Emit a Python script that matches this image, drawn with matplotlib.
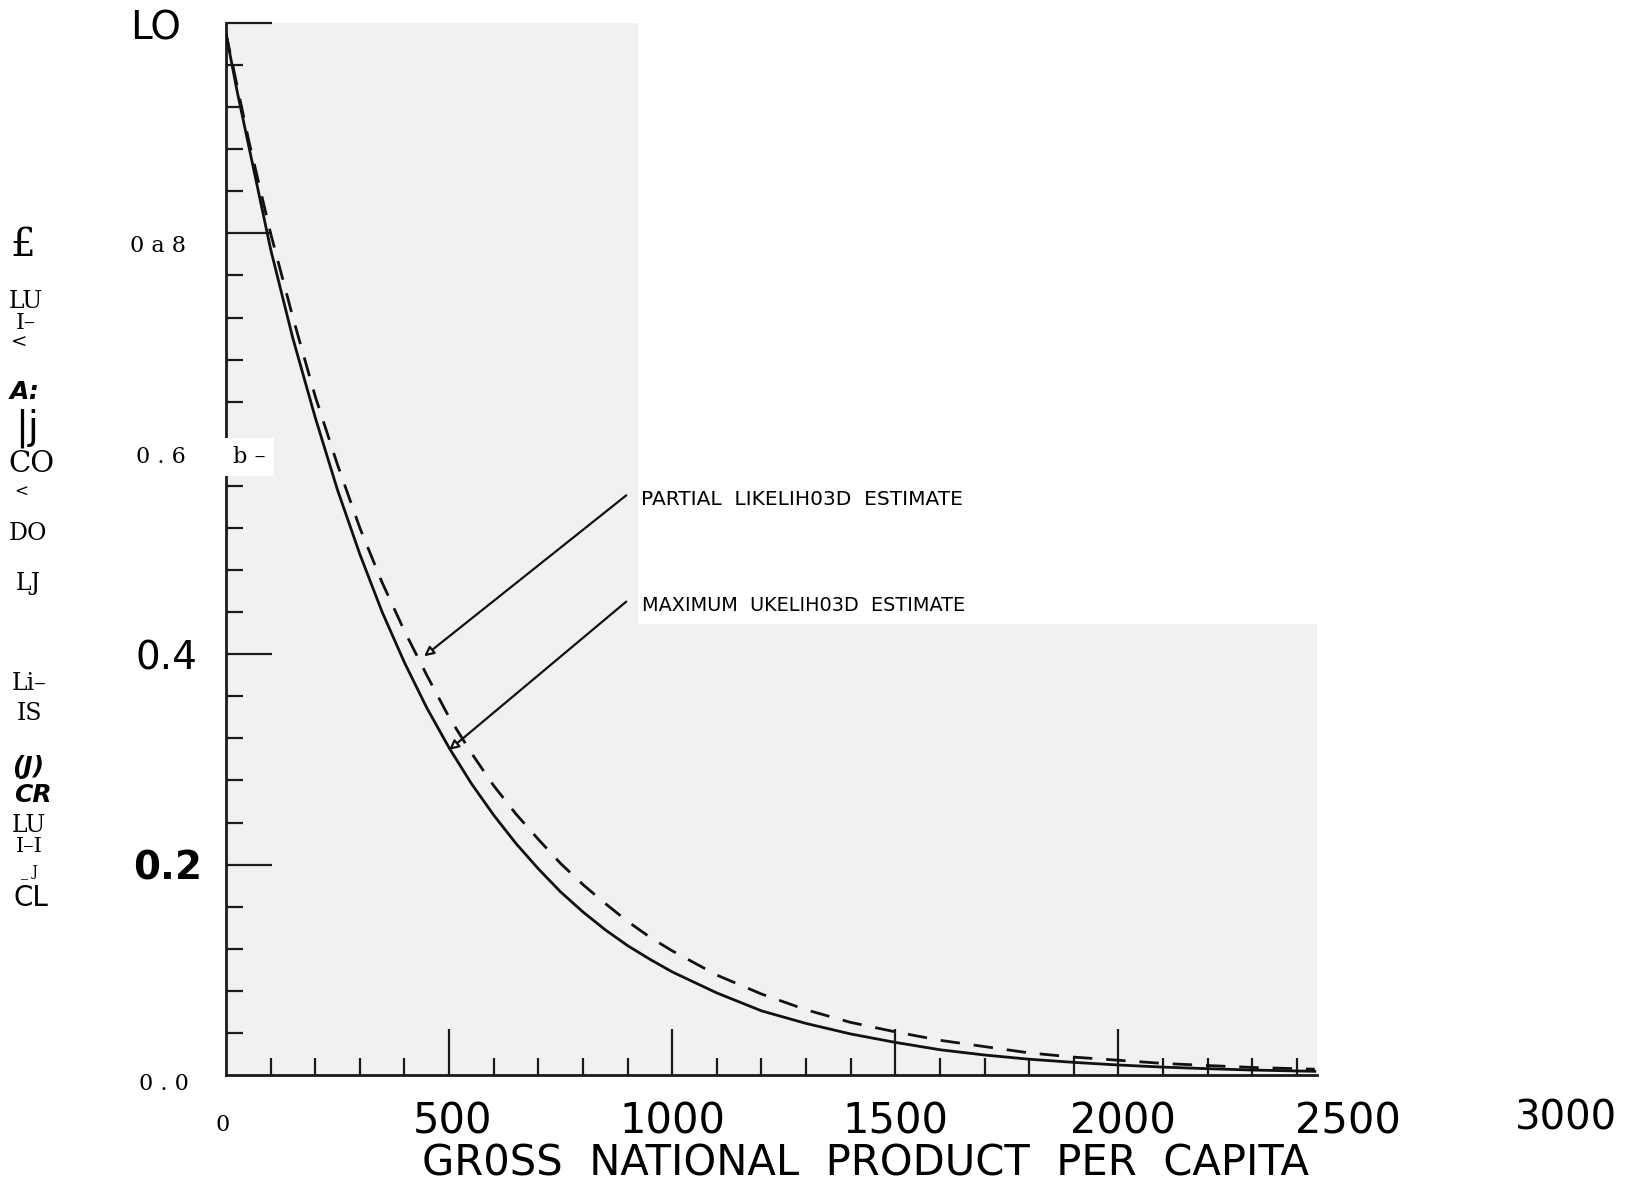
# Survival curve vs GNP per capita (scanned figure re-drawn)

import matplotlib
matplotlib.use("Agg")
import matplotlib.pyplot as plt
from matplotlib.patches import Rectangle

# ------------ Data ------------

gnp = [0, 25, 50, 75, 100, 150, 200, 250, 300, 350, 400, 450, 500, 550,
       600, 650, 700, 750, 800, 850, 900, 950, 1000, 1100, 1200, 1300,
       1400, 1500, 1600, 1700, 1800, 1900, 2000, 2100, 2200, 2300, 2440]

# maximum likelihood estimate (solid)
max_lik = [0.99, 0.935, 0.885, 0.835, 0.785, 0.700, 0.625, 0.556, 0.495,
           0.440, 0.392, 0.349, 0.311, 0.277, 0.247, 0.220, 0.196, 0.174,
           0.155, 0.138, 0.123, 0.110, 0.098, 0.078, 0.061, 0.049, 0.039,
           0.031, 0.024, 0.019, 0.015, 0.012, 0.0095, 0.0075, 0.006,
           0.0047, 0.0035]

# partial likelihood estimate (dashed)
part_lik = [0.99, 0.940, 0.890, 0.845, 0.800, 0.720, 0.645, 0.580, 0.520,
            0.468, 0.422, 0.380, 0.340, 0.306, 0.275, 0.248, 0.224, 0.201,
            0.181, 0.163, 0.146, 0.131, 0.118, 0.095, 0.077, 0.062, 0.050,
            0.041, 0.033, 0.027, 0.021, 0.017, 0.014, 0.011, 0.009,
            0.0072, 0.0055]

y_major = [0.2, 0.4, 0.6, 0.8, 1.0]
x_major = [500, 1000, 1500, 2000]

# ------------ Figure ------------

W = 1628
H = 1187
fig = plt.figure(figsize=(W / 100, H / 100), dpi=100)

# axes placed in pixel units of the original
x0px, x1px = 226, 1317
y0px, y1px = 1075, 23
ax = fig.add_axes([x0px / W, 1 - y0px / H, (x1px - x0px) / W, (y0px - y1px) / H])
ax.set_xlim(0, 2445)
ax.set_ylim(0, 1.0)
ax.set_facecolor('#f1f1f1')

for s in ['top', 'right']:
    ax.spines[s].set_visible(False)
for s in ['left', 'bottom']:
    ax.spines[s].set_linewidth(2.0)
    ax.spines[s].set_color('#1a1a1a')

# paper is white in the upper right
ax.add_patch(Rectangle((638 / W, 1 - 624 / H), 1 - 638 / W, 624 / H,
                       transform=fig.transFigure, facecolor='white',
                       edgecolor='none', zorder=0.5, clip_on=False))

# ticks (inward, no labels; labels are drawn as text)
ax.set_yticks(y_major)
ax.set_yticks([i * 0.04 for i in range(1, 25)], minor=True)
ax.set_xticks(x_major)
ax.set_xticks([i * 100 for i in range(1, 25)], minor=True)
ax.tick_params(which='major', direction='in', length=33, width=1.6,
               color='#1a1a1a', labelleft=False, labelbottom=False)
ax.tick_params(which='minor', direction='in', length=12, width=1.6,
               color='#1a1a1a')

# curves
ax.plot(gnp, max_lik, '-', color='#111111', lw=2.0, zorder=3)
ax.plot(gnp, part_lik, '--', color='#111111', lw=2.0, dashes=(7, 5), zorder=3)

# arrows to the curves
arrow = dict(arrowstyle='-|>', lw=1.6, color='#111111', mutation_scale=14,
             fc='white', shrinkA=0, shrinkB=0)
ax.annotate('', xy=(444, 0.398), xytext=(897, 0.551), arrowprops=arrow)
ax.annotate('', xy=(500, 0.309), xytext=(897, 0.450), arrowprops=arrow)


def ptext(x, y, s, **kw):
    kw.setdefault('ha', 'center')
    kw.setdefault('va', 'center')
    return fig.text(x / W, 1 - y / H, s, **kw)


ptext(641, 500, 'PARTIAL  LIKELIH03D  ESTIMATE', ha='left', fontsize=14.5,
      family='DejaVu Sans')
ptext(642, 606, 'MAXIMUM  UKELIH03D  ESTIMATE', ha='left', fontsize=13.9,
      family='DejaVu Sans')

# y tick labels (as scanned)
serif = 'DejaVu Serif'
ptext(156, 29, 'LO', fontsize=28, family='DejaVu Sans')
ptext(158, 246, '0 a 8', fontsize=16, family=serif)
ptext(161, 457, '0 . 6', fontsize=16, family=serif)
ptext(249, 457, 'b \u2013', fontsize=16, family=serif,
      bbox=dict(facecolor='white', edgecolor='none', pad=6))
ptext(166, 659, '0.4', fontsize=28, family='DejaVu Sans')
ptext(168, 868, '0.2', fontsize=28, family='DejaVu Sans', weight='bold')
ptext(164, 1084, '0 . 0', fontsize=16, family=serif)

# x tick labels
ptext(223, 1125, '0', fontsize=16, family=serif)
x_labels = ['500', '1000', '1500', '2000', '2500']
x_lab_px = [452, 672, 895, 1123, 1348]
for s, xp in zip(x_labels, x_lab_px):
    ptext(xp, 1122, s, fontsize=30, family='DejaVu Sans')
ptext(1566, 1118, '3000', fontsize=29, family='DejaVu Sans')

ptext(866, 1163, 'GR0SS  NATIONAL  PRODUCT  PER  CAPITA', fontsize=30,
      family='DejaVu Sans')

# rotated y axis title, as OCR fragments down the left edge
frags = [
    ('\u00a3', 23, 245, 28, serif, 'normal', 'normal'),
    ('LU', 26, 301, 17, serif, 'normal', 'normal'),
    ('I\u2013', 26, 323, 16, serif, 'normal', 'normal'),
    ('<', 19, 343, 14, serif, 'normal', 'normal'),
    ('A:', 25, 392, 18, 'DejaVu Sans', 'bold', 'italic'),
    ('|j', 27, 428, 28, 'DejaVu Sans', 'normal', 'normal'),
    ('CO', 31, 464, 21, serif, 'normal', 'normal'),
    ('<', 21, 492, 12, serif, 'normal', 'normal'),
    ('DO', 28, 534, 17, serif, 'normal', 'normal'),
    ('LJ', 28, 583, 17, serif, 'normal', 'normal'),
    ('Li\u2013', 29, 684, 17, serif, 'normal', 'normal'),
    ('IS', 29, 714, 17, serif, 'normal', 'normal'),
    ('(J)', 28, 767, 18, 'DejaVu Sans', 'bold', 'italic'),
    ('CR', 33, 795, 18, 'DejaVu Sans', 'bold', 'italic'),
    ('LU', 29, 825, 17, serif, 'normal', 'normal'),
    ('I\u2013I', 29, 846, 15, serif, 'normal', 'normal'),
    ('_ J', 29, 872, 10, serif, 'normal', 'normal'),
    ('CL', 31, 898, 20, 'DejaVu Sans', 'normal', 'normal'),
]
for s, xp, yp, fs, fam, wt, st in frags:
    ptext(xp, yp, s, fontsize=fs, family=fam, weight=wt, style=st)

fig.savefig('out.png', dpi=100)
